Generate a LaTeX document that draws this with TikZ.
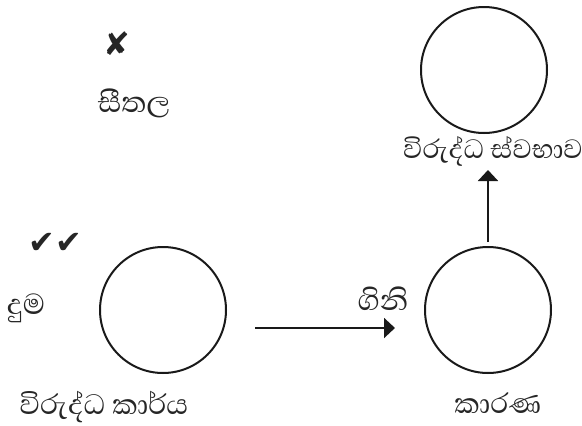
\documentclass[tikz,border=0pt]{standalone}
\usepackage{fontspec}
\newfontfamily\sinhala[Script=Sinhala]{Abhaya Libre}
\newfontfamily\symb{DejaVu Sans}
\usetikzlibrary{arrows.meta}
\begin{document}
\begin{tikzpicture}[x=1pt,y=-1pt,
  circ/.style={draw=black!90,line width=2pt,circle,minimum size=126pt,inner sep=0pt},
  lbl/.style={font=\sinhala\fontsize{37}{40}\selectfont,inner sep=0pt,text=black!85},
  sym/.style={font=\symb\fontsize{32}{34}\selectfont,inner sep=0pt,text=black!85},
  arr/.style={line width=2pt,draw=black!90,-{Triangle[length=11pt,width=20pt]}}]
\useasboundingbox (0,0) rectangle (582,426);
\node[circ] (c1) at (163,310) {};
\node[circ] (c2) at (488,310) {};
\node[circ] (c3) at (484,70) {};
\node[lbl,anchor=base,text depth=1pt,font=\sinhala\fontsize{36}{38}\selectfont] (t1) at (104,414) {විරුද්ධ කාර්ය};
\node[lbl,anchor=base,text depth=1pt,font=\sinhala\fontsize{36}{38}\selectfont] (t2) at (498,413) {කාරණ};
\node[lbl,font=\sinhala\fontsize{34}{36}\selectfont] (t3) at (493,151) {විරුද්ධ ස්වභාව};
\node[lbl] (t4) at (383,299) {ගිනි};
\node[lbl] (t5) at (26,308) {දුම};
\node[lbl] (t6) at (134,103) {සීතල};
\node[sym] (s1) at (55,243) {✔✔};
\node[sym] (s2) at (117,44) {✘};
\coordinate (a1s) at (255,328);
\coordinate (a1e) at (395,328);
\coordinate (a2s) at (488,242);
\coordinate (a2e) at (488,170);
\draw[arr] (a1s) -- (a1e);
\draw[arr] (a2s) -- (a2e);
\end{tikzpicture}
\end{document}
